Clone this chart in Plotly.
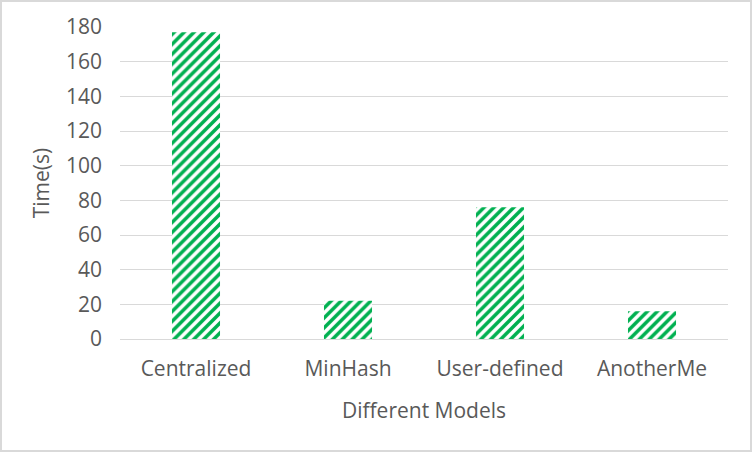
import plotly.graph_objects as go

categories = ["Centralized", "MinHash", "User-defined", "AnotherMe"]
times = [177, 22, 76, 16]
y_ticks = [0, 20, 40, 60, 80, 100, 120, 140, 160, 180]

W, H = 752, 452
ML, MR, MT, MB = 120, 24, 27, 113
FS = 21
TXT = "#595959"

fig = go.Figure(go.Bar(
    x=categories, y=times,
    marker=dict(color="white", line=dict(width=0),
                pattern=dict(shape="/", fgcolor="#00B050", bgcolor="white",
                             size=7, solidity=0.5, fillmode="replace")),
))

font_family = "Open Sans, Liberation Sans, sans-serif"
fig.update_layout(
    width=W, height=H,
    margin=dict(l=ML, r=MR, t=MT, b=MB, autoexpand=False),
    paper_bgcolor="white", plot_bgcolor="white",
    bargap=0.684,
    showlegend=False,
    font=dict(family=font_family, size=FS, color=TXT),
    xaxis=dict(showgrid=False, showline=False, zeroline=False,
               ticks="", ticklabelstandoff=15,
               tickfont=dict(size=FS, color=TXT),
               title=dict(text="Different Models", standoff=22,
                          font=dict(size=FS, color=TXT))),
    yaxis=dict(range=[0, 180], tickvals=y_ticks, showgrid=True,
               gridcolor="#D9D9D9", gridwidth=1, zeroline=True,
               zerolinecolor="#D9D9D9", zerolinewidth=1, showline=False,
               ticks="", ticklabelstandoff=17,
               tickfont=dict(size=FS, color=TXT),
               title=dict(text="Time(s)", standoff=10,
                          font=dict(size=FS, color=TXT))),
)

# outer border of the chart area (paper coords extended to the figure edge)
pw = W - ML - MR
ph = H - MT - MB
fig.add_shape(type="rect", xref="paper", yref="paper",
              x0=(1 - ML) / pw, x1=(W - 1 - ML) / pw,
              y0=-(MB - 1) / ph, y1=(ph + MT - 1) / ph,
              line=dict(color="#D9D9D9", width=2), layer="above")

fig.write_html("out.html",
               config={"displayModeBar": False},
               post_script="document.body.style.margin='0';document.body.style.overflow='hidden';")
